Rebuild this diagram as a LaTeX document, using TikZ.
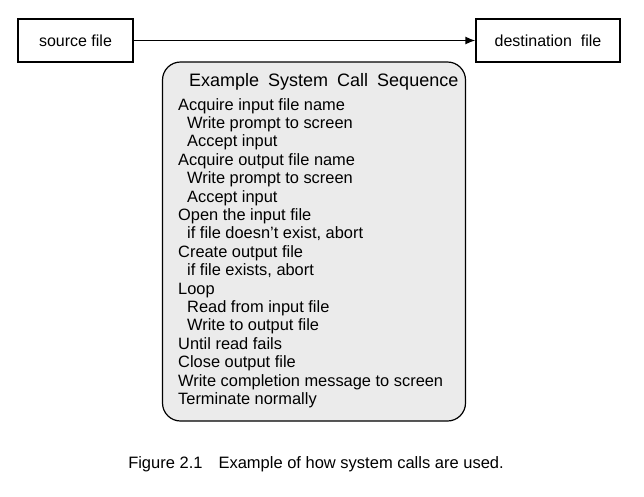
\documentclass[tikz,border=0pt]{standalone}
\usepackage{fontspec}
\setmainfont{Liberation Sans}
\usetikzlibrary{arrows.meta,positioning}
\definecolor{scan}{HTML}{EBEBEB}

\tikzset{
  filebox/.style={draw, line width=1.1pt, minimum height=43pt, inner sep=0pt, font=\fontsize{16}{18}\selectfont},
  seqbox/.style={draw, line width=1.2pt, rounded corners=18pt, fill=scan, minimum width=303pt, minimum height=359pt},
  seqline/.style={anchor=base west, inner sep=0pt, font=\fontsize{16.4}{18}\selectfont},
  flow/.style={line width=1.6pt, -{Latex[length=10pt,width=8pt]}}
}

\begin{document}
\begin{tikzpicture}[x=1pt,y=-1pt]
\useasboundingbox (0,0) rectangle (644,496);
\node[filebox, minimum width=115pt] (src) at (75.5,40.5) {source file};
\node[filebox, minimum width=144pt] (dst) at (548,40.5) {destination\ \ file};
\draw[flow] (src) -- (dst);
\node[seqbox] (seq) at (314,241.5) {};
\node[seqline, font=\fontsize{18}{18}\selectfont] (title) at (189,86)
  {Example\hspace{0.5em}System\hspace{0.5em}Call\hspace{0.5em}Sequence};
\foreach \txt/\xpos/\i in {%
    {Acquire input file name}/178/0,%
    {Write prompt to screen}/187/1,%
    {Accept input}/187/2,%
    {Acquire output file name}/178/3,%
    {Write prompt to screen}/187/4,%
    {Accept input}/187/5,%
    {Open the input file}/178/6,%
    {if file doesn\char39t exist, abort}/187/7,%
    {Create output file}/178/8,%
    {if file exists, abort}/187/9,%
    {Loop}/178/10,%
    {Read from input file}/187/11,%
    {Write to output file}/187/12,%
    {Until read fails}/178/13,%
    {Close output file}/178/14,%
    {Write completion message to screen}/178/15,%
    {Terminate normally}/178/16%
}{
    \node[seqline] (step\i) at (\xpos,110+18.4*\i) {\txt};
}
\node[anchor=base, inner sep=0pt, font=\fontsize{16.5}{18}\selectfont] (caption) at (316,468) {Figure 2.1\hspace{16pt}Example of how system calls are used.};
\end{tikzpicture}
\end{document}
